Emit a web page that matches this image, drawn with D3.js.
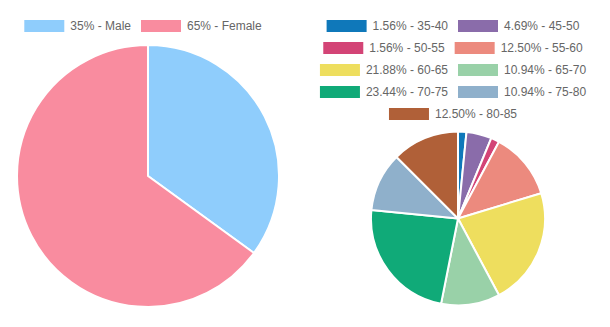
<!DOCTYPE html>
<html>
<head>
<meta charset="utf-8">
<script src="https://cdn.jsdelivr.net/npm/d3@7"></script>
<style>
  html, body { margin: 0; padding: 0; background: #fff; }
  svg { display: block; font-family: "Liberation Sans", Arial, Helvetica, sans-serif; }
</style>
</head>
<body>
<svg id="chart" width="610" height="327"></svg>
<script>
// Gender split (percent)
const genderLabels = ["Male", "Female"];
const genderValues = [35, 65];
const genderColors = ["#8FCDFC", "#F98C9F"];

// Age groups (percent)
const ageLabels = ["35-40", "45-50", "50-55", "55-60", "60-65", "65-70", "70-75", "75-80", "80-85"];
const ageValues = [1.56, 4.69, 1.56, 12.50, 21.88, 10.94, 23.44, 10.94, 12.50];
const ageColors = ["#0F78BA", "#8A6CAA", "#D34476", "#EC8A7E", "#EEDE5E", "#99D1A8", "#10AA78", "#8FB0CB", "#B06038"];

const svg = d3.select("#chart");

function drawPie(cfg) {
  const data = cfg.labels.map((l, i) => ({ label: l, value: cfg.values[i], color: cfg.colors[i] }));
  const pie = d3.pie().sort(null).value(d => d.value);
  const arc = d3.arc().innerRadius(0).outerRadius(cfg.r);
  const g = svg.append("g").attr("transform", `translate(${cfg.cx},${cfg.cy})`);
  g.selectAll("path")
    .data(pie(data))
    .join("path")
    .attr("d", arc)
    .attr("fill", d => d.data.color)
    .attr("stroke", "#fff")
    .attr("stroke-width", 2)
    .attr("stroke-linejoin", "round");

  // Legend: wrapped rows, each row centered on legendX
  const boxW = 40, boxH = 12, fontSize = 12, pad = 10, lineH = 22;
  const lg = svg.append("g");
  const items = data.map(d => {
    const text = cfg.fmt(d.value) + " - " + d.label;
    const t = lg.append("text").attr("font-size", fontSize).text(text);
    const w = t.node().getComputedTextLength();
    t.remove();
    return { d, text, w: boxW + fontSize / 2 + w };
  });
  const rows = [];
  let cur = [], curW = 0;
  items.forEach(it => {
    const add = cur.length ? pad + it.w : it.w;
    if (cur.length && curW + add > cfg.legendMax) {
      rows.push({ items: cur, w: curW });
      cur = [it]; curW = it.w;
    } else {
      cur.push(it); curW += add;
    }
  });
  if (cur.length) rows.push({ items: cur, w: curW });

  rows.forEach((row, ri) => {
    let x = cfg.legendX - row.w / 2;
    const yc = cfg.legendY + ri * lineH;
    row.items.forEach(it => {
      lg.append("rect")
        .attr("x", x).attr("y", yc - boxH / 2)
        .attr("width", boxW).attr("height", boxH)
        .attr("fill", it.d.color);
      lg.append("text")
        .attr("x", x + boxW + fontSize / 2)
        .attr("y", yc)
        .attr("dy", "0.35em")
        .attr("font-size", fontSize)
        .attr("fill", "#666")
        .text(it.text);
      x += it.w + pad;
    });
  });
}

drawPie({
  labels: genderLabels, values: genderValues, colors: genderColors,
  cx: 148, cy: 176, r: 131,
  legendX: 143, legendY: 26, legendMax: 290,
  fmt: v => v + "%"
});

drawPie({
  labels: ageLabels, values: ageValues, colors: ageColors,
  cx: 458, cy: 218.5, r: 87,
  legendX: 453, legendY: 26, legendMax: 290,
  fmt: v => v.toFixed(2) + "%"
});
</script>
</body>
</html>
